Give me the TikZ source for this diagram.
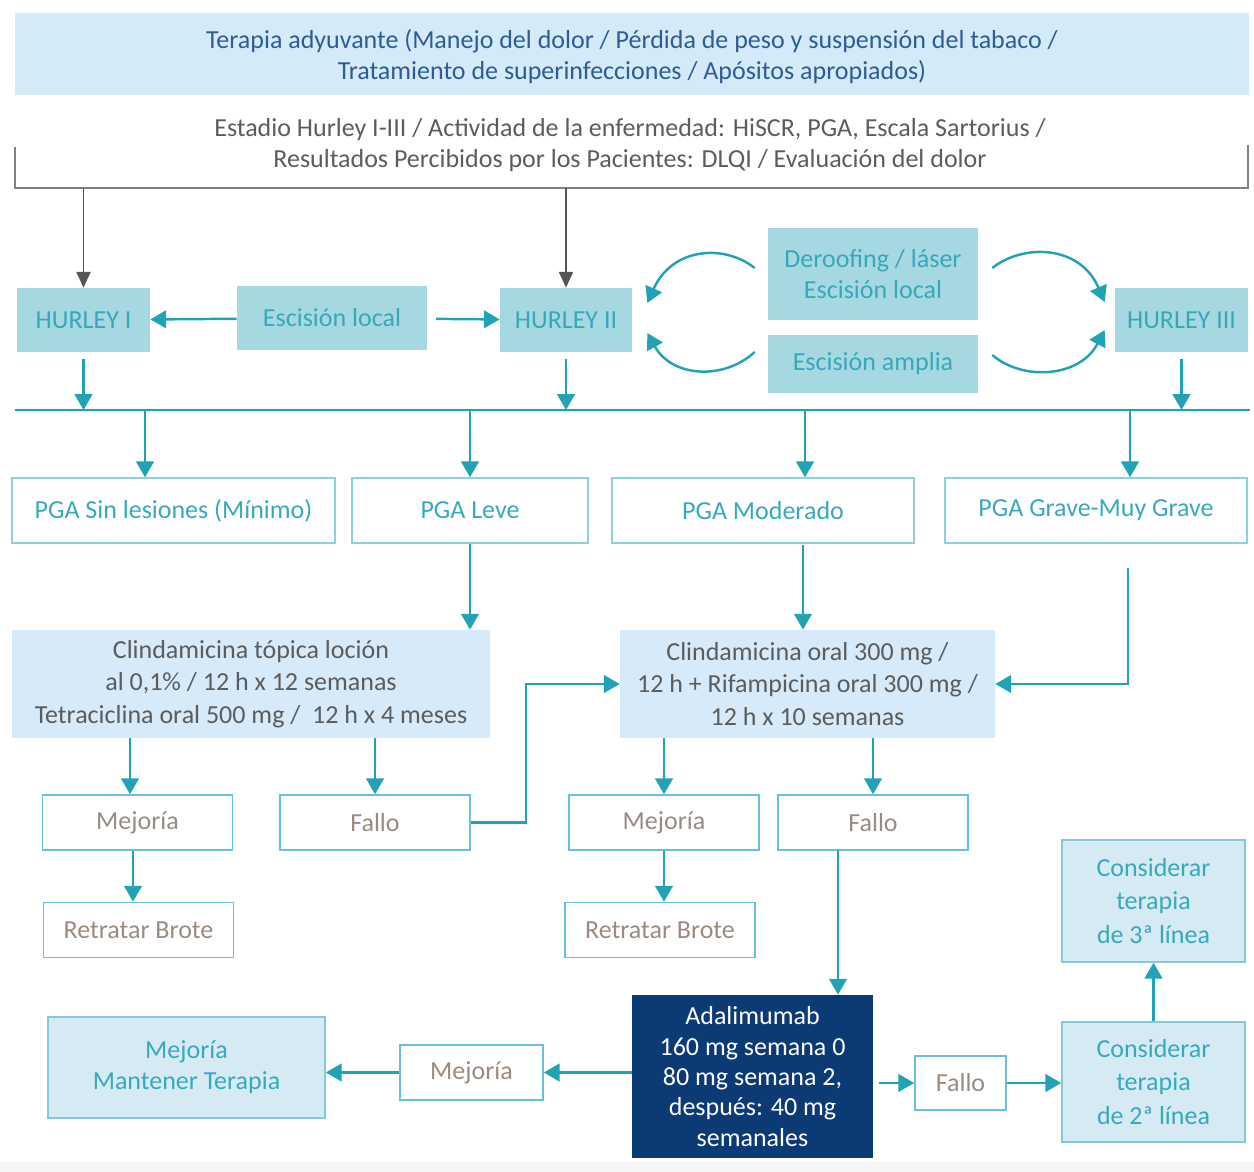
\documentclass[tikz,border=0pt]{standalone}
\usepackage{fontspec}
\setmainfont{Carlito}
\usetikzlibrary{positioning, calc, arrows.meta}

\definecolor{arrteal}{HTML}{22A2B5}
\definecolor{topfill}{HTML}{D4EAF8}
\definecolor{toptext}{HTML}{2E5C94}
\definecolor{greytext}{HTML}{5C5C5C}
\definecolor{greyline}{HTML}{808080}
\definecolor{greyarrow}{HTML}{555555}
\definecolor{hurfill}{HTML}{A6D8E2}
\definecolor{hurtext}{HTML}{38A7BA}
\definecolor{pgaline}{HTML}{8FD0DA}
\definecolor{pgatext}{HTML}{38A9BD}
\definecolor{treatfill}{HTML}{D6EAF9}
\definecolor{resline}{HTML}{6ABEE0}
\definecolor{restext}{HTML}{9B8A80}
\definecolor{adafill}{HTML}{0C3A75}
\definecolor{consfill}{HTML}{D5EAF2}
\definecolor{consline}{HTML}{86C8DB}

\tikzset{
  arr/.style={draw=arrteal, line width=1.4pt, -{Triangle[length=9pt,width=10pt]}},
  greyarr/.style={draw=greyarrow, line width=1.1pt, -{Triangle[length=9pt,width=8pt]}},
  hurley/.style={fill=hurfill, text=hurtext, minimum height=1.28cm},
  pgabox/.style={draw=pgaline, line width=0.8pt, text=pgatext, minimum height=1.3cm},
  treatbox/.style={fill=treatfill, text=greytext, minimum width=7.5cm, minimum height=2.16cm, font=\fontsize{14.8}{18.5}\selectfont},
  resbox/.style={draw=resline, line width=0.9pt, text=restext, minimum width=3.8cm, minimum height=1.1cm},
  consbox/.style={fill=consfill, draw=consline, line width=0.9pt, text=pgatext, minimum width=3.66cm, minimum height=2.42cm}
}

\begin{document}
\begin{tikzpicture}[x=0.02cm, y=-0.02cm, every node/.style={font=\fontsize{14.8}{17.6}\selectfont, align=center, inner sep=0pt}]

\useasboundingbox (0,0) rectangle (1254,1172);
\fill[gray!8] (0,1162) rectangle (1254,1172);

% header
\node[fill=topfill, minimum width=24.7cm, minimum height=1.64cm] (adj) at (632,54) {};
\node[text=toptext] (adjtxt) at (632,57)
  {Terapia adyuvante (Manejo del dolor / Pérdida de peso y suspensión del tabaco /\\Tratamiento de superinfecciones / Apósitos apropiados)};
\node[text=greytext] (eval) at (630,145)
  {Estadio Hurley I-III / Actividad de la enfermedad: HiSCR, PGA, Escala Sartorius /\\Resultados Percibidos por los Pacientes: DLQI / Evaluación del dolor};

\coordinate (bkl) at (15,188);
\coordinate (bkr) at (1248,188);
\draw[greyline, line width=1.1pt] (15,147) -- (bkl) -- (bkr) -- (1248,145);

% hurley stages
\node[hurley, minimum width=2.66cm] (h1) at (83.5,320) {HURLEY I};
\node[hurley, minimum width=3.8cm] (esc) at (332,318) {Escisión local};
\node[hurley, minimum width=2.64cm] (h2) at (566,320) {HURLEY II};
\node[hurley, minimum width=4.2cm, minimum height=1.84cm] (der) at (873,274) {Deroofing / láser\\Escisión local};
\node[hurley, minimum width=4.2cm, minimum height=1.16cm] (amp) at (873,364) {Escisión amplia};
\node[hurley, minimum width=2.66cm] (h3) at (1181.5,320) {HURLEY III};

\draw[greyarr] (h1 |- bkl) -- (h1);
\draw[greyarr] (h2 |- bkl) -- (h2);
\draw[arr] (esc) -- (h1);
\draw[arr, shorten <=5pt] (esc) -- (h2);

\draw[arr] ($(der.west)+(-13,-6)$) .. controls +(-30,-24) and +(25,-56) .. ($(h2.east)+(15,-17)$);
\draw[arr] ($(amp.west)+(-13,-12)$) .. controls +(-30,28) and +(25,45) .. ($(h2.east)+(15,13)$);
\draw[arr] ($(der.east)+(14,-6)$) .. controls +(30,-24) and +(-25,-58) .. ($(h3.west)+(-10,-18)$);
\draw[arr] ($(amp.east)+(14,-9)$) .. controls +(30,26) and +(-25,48) .. ($(h3.west)+(-10,10)$);

% distribution line
\coordinate (lnl) at (15,410);
\coordinate (lnr) at (1250,410);
\draw[arrteal, line width=1.6pt] (lnl) -- (lnr);
\draw[arr, shorten <=4pt] (h1) -- (h1 |- lnl);
\draw[arr, shorten <=4pt] (h2) -- (h2 |- lnl);
\draw[arr, shorten <=4pt] (h3) -- (h3 |- lnl);

% PGA
\node[pgabox, minimum width=6.46cm] (sin) at (173.5,510.5) {PGA Sin lesiones (Mínimo)};
\node[pgabox, minimum width=4.72cm] (leve) at (470,510.5) {PGA Leve};
\node[pgabox, minimum width=6.04cm] (mod) at (763,510.5) {PGA Moderado};
\node[pgabox, minimum width=6.04cm] (grave) at (1096,510.5) {PGA Grave-Muy Grave};

\coordinate (d1) at (145,410);
\coordinate (d2) at (470,410);
\coordinate (d3) at (805,410);
\coordinate (d4) at (1130,410);
\draw[arr] (d1) -- (d1 |- sin.north);
\draw[arr] (d2) -- (d2 |- leve.north);
\draw[arr] (d3) -- (d3 |- mod.north);
\draw[arr] (d4) -- (d4 |- grave.north);

% antibiotics
\node[treatbox, minimum width=9.56cm] (topic) at (251,684)
  {Clindamicina tópica loción\\al 0,1\% / 12 h x 12 semanas\\Tetraciclina oral 500 mg / \ 12 h x 4 meses};
\node[treatbox] (oral) at (807.5,684)
  {Clindamicina oral 300 mg /\\12 h + Rifampicina oral 300 mg /\\12 h x 10 semanas};

\coordinate (gv) at (1128,568);
\coordinate (mv) at (803,545);
\draw[arr] (leve) -- (leve |- topic.north);
\draw[arr] (mv) -- (mv |- oral.north);
\draw[arr] (gv) |- (oral.east);

% outcomes
\node[resbox] (mej1) at (137.5,822.5) {Mejoría};
\node[resbox] (fal1) at (375,822.5) {Fallo};
\node[resbox] (ret1) at (138.5,930) {Retratar Brote};
\node[resbox] (mej2) at (664,822.5) {Mejoría};
\node[resbox] (fal2) at (873,822.5) {Fallo};
\node[resbox] (ret2) at (660,930) {Retratar Brote};

\draw[arr] (topic.south -| 130,0) -- (mej1.north -| 130,0);
\draw[arr] (topic.south -| fal1) -- (fal1);
\draw[arr] (mej1.south -| 133,0) -- (ret1.north -| 133,0);
\draw[arr] (oral.south -| mej2) -- (mej2);
\draw[arr] (oral.south -| fal2) -- (fal2);
\draw[arr] (mej2) -- (mej2 |- ret2.north);
\draw[arr] (fal1.east) -- ++(55,0) |- (oral.west);

% adalimumab
\node[fill=adafill, text=white, minimum width=4.82cm, minimum height=3.26cm, font=\fontsize{14.8}{17.3}\selectfont] (ada) at (752.5,1076.5)
  {Adalimumab\\160 mg semana 0\\80 mg semana 2,\\después: 40 mg\\semanales};
\node[resbox, minimum width=2.86cm] (mej3) at (471.5,1072.5) {Mejoría};
\node[consbox, minimum width=5.54cm, minimum height=2.02cm] (mant) at (186.5,1067.5) {Mejoría\\Mantener Terapia};
\node[resbox, minimum width=1.82cm, minimum height=1.08cm] (fal3) at (960.5,1083) {Fallo};
\node[consbox, minimum height=2.4cm, font=\fontsize{14.8}{19.3}\selectfont] (cons2) at (1153.5,1082) {Considerar\\terapia\\de 2ª línea};
\node[consbox, minimum height=2.44cm, font=\fontsize{14.8}{19.3}\selectfont] (cons3) at (1153.5,901) {Considerar\\terapia\\de 3ª línea};

\coordinate (fv) at (838,850);
\draw[arr] (fv) -- (fv |- ada.north);
\draw[arr] (mej3.east -| ada.west) -- (mej3);
\draw[arr] (mej3.west) -- (mej3.west -| mant.east);
\draw[arr, shorten <=3pt] (fal3.west -| ada.east) -- (fal3);
\draw[arr] (fal3) -- (fal3 -| cons2.west);
\draw[arr] (cons2) -- (cons3);

\end{tikzpicture}
\end{document}
